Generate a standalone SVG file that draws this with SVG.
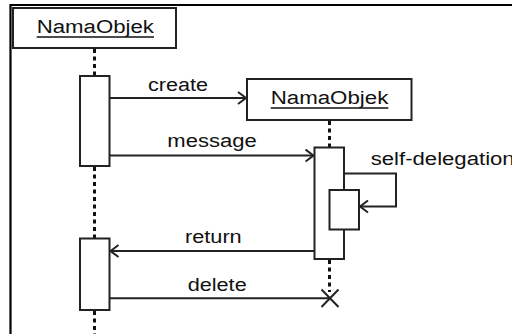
<svg xmlns="http://www.w3.org/2000/svg" width="512" height="334" viewBox="0 0 512 334">
<defs>
<marker id="open" viewBox="0 0 10 14" refX="9" refY="7" markerWidth="10" markerHeight="14" markerUnits="userSpaceOnUse" orient="auto">
<path d="M1,1 L9,7 L1,13" fill="none" stroke="#222" stroke-width="2"/>
</marker>
<style>
.box{fill:#fff;stroke:#222;stroke-width:2}
.life{stroke:#111;stroke-width:3;stroke-dasharray:4 3.5;fill:none}
.msg{stroke:#222;stroke-width:2;fill:none}
.t{font-family:"Liberation Sans",Arial,sans-serif;font-size:18px;fill:#111}
.ul{stroke:#111;stroke-width:1.3}
</style>
</defs>
<rect width="512" height="334" fill="#fff"/>
<g id="frame">
<path d="M10.5,334 V5 H512" fill="none" stroke="#000" stroke-width="2.2"/>
</g>
<g id="lifelines">
<line class="life" x1="94.5" y1="49" x2="94.5" y2="76"/>
<line class="life" x1="94.5" y1="167" x2="94.5" y2="238"/>
<line class="life" x1="94.5" y1="311" x2="94.5" y2="334"/>
<line class="life" x1="329.5" y1="121" x2="329.5" y2="147"/>
<line class="life" x1="329.5" y1="260" x2="329.5" y2="292"/>
</g>
<g id="obj1">
<rect class="box" x="13" y="8" width="163" height="40"/>
<text class="t" x="36.7" y="33.3" textLength="117.3" lengthAdjust="spacingAndGlyphs">NamaObjek</text>
<line class="ul" x1="36.7" y1="37" x2="154" y2="37"/>
</g>
<g id="act1">
<rect class="box" x="80" y="76" width="29.5" height="90"/>
</g>
<g id="act2">
<rect class="box" x="80" y="238.5" width="29.5" height="71.5"/>
</g>
<g id="obj2">
<rect class="box" x="247" y="79" width="164.5" height="41"/>
<text class="t" x="270.7" y="104.3" textLength="117.6" lengthAdjust="spacingAndGlyphs">NamaObjek</text>
<line class="ul" x1="270.7" y1="108" x2="388.3" y2="108"/>
</g>
<g id="act3">
<rect class="box" x="314.5" y="147.5" width="29.5" height="111.5"/>
</g>
<g id="act4">
<rect class="box" x="329.5" y="190" width="29.5" height="39.5"/>
</g>
<g id="connectors">
<line class="msg" x1="109.5" y1="98" x2="246" y2="98" marker-end="url(#open)"/>
<line class="msg" x1="109.5" y1="155.5" x2="313.5" y2="155.5" marker-end="url(#open)"/>
<polyline class="msg" points="344,173.5 396,173.5 396,206.5 360,206.5" marker-end="url(#open)"/>
<line class="msg" x1="314.5" y1="251" x2="110.5" y2="251" marker-end="url(#open)"/>
<line class="msg" x1="109.5" y1="298.3" x2="330" y2="298.3"/>
<path class="msg" d="M321.5,289.5 L338.5,307 M338.5,289.5 L321.5,307"/>
</g>
<g id="labels">
<text class="t" x="148" y="91" textLength="60" lengthAdjust="spacingAndGlyphs">create</text>
<text class="t" x="167.3" y="147.3" textLength="89.4" lengthAdjust="spacingAndGlyphs">message</text>
<text class="t" x="370.7" y="165" textLength="144" lengthAdjust="spacingAndGlyphs">self-delegation</text>
<text class="t" x="185" y="242.7" textLength="56.7" lengthAdjust="spacingAndGlyphs">return</text>
<text class="t" x="187.7" y="290.7" textLength="59" lengthAdjust="spacingAndGlyphs">delete</text>
</g>
</svg>
